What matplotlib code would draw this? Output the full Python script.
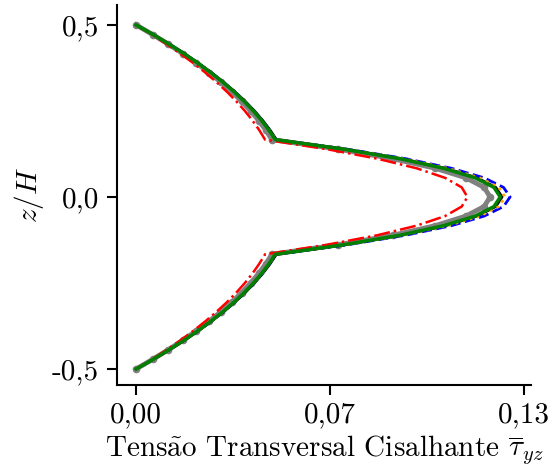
import numpy as np
import matplotlib
matplotlib.use("Agg")
import matplotlib.pyplot as plt
from matplotlib.ticker import FuncFormatter

plt.rcParams["font.family"] = ["cmr10", "DejaVu Serif"]
plt.rcParams["mathtext.fontset"] = "cm"
plt.rcParams["axes.unicode_minus"] = False

# half profile, z/H from 0.5 down to 0 (step 1/36); profile is symmetric
z_half = [0.5, 0.4722, 0.4444, 0.4167, 0.3889, 0.3611, 0.3333, 0.3056, 0.2778,
          0.25, 0.2222, 0.1944, 0.1667, 0.1389, 0.1111, 0.0833, 0.0556, 0.0278, 0.0]

tau_black = [0, 0.00571, 0.01110, 0.01616, 0.02089, 0.02530, 0.02937, 0.03313, 0.03656,
             0.03966, 0.04243, 0.04488, 0.0470, 0.0701, 0.0890, 0.1037, 0.1142, 0.1205, 0.1226]
tau_blue = [0, 0.00569, 0.01105, 0.01609, 0.02080, 0.02519, 0.02925, 0.03299, 0.03640,
            0.03949, 0.04225, 0.04469, 0.0468, 0.0708, 0.0904, 0.1057, 0.1166, 0.1231, 0.1253]
tau_orange = [0, 0.00567, 0.01102, 0.01605, 0.02075, 0.02513, 0.02918, 0.03291, 0.03631,
              0.03939, 0.04215, 0.04458, 0.0467, 0.0702, 0.0894, 0.1044, 0.1151, 0.1215, 0.1236]
tau_green = [0, 0.00566, 0.01100, 0.01602, 0.02071, 0.02508, 0.02912, 0.03285, 0.03624,
             0.03932, 0.04207, 0.04450, 0.0466, 0.0696, 0.0885, 0.1031, 0.1136, 0.1199, 0.1220]
tau_gray = [0, 0.00553, 0.01075, 0.01564, 0.02023, 0.02449, 0.02844, 0.03208, 0.03540,
            0.03840, 0.04109, 0.04346, 0.0455, 0.0678, 0.0861, 0.1003, 0.1105, 0.1166, 0.1186]
tau_red = [0, 0.00525, 0.01020, 0.01485, 0.01920, 0.02325, 0.02700, 0.03045, 0.03360,
           0.03645, 0.03900, 0.04125, 0.0432, 0.0639, 0.0809, 0.0940, 0.1035, 0.1091, 0.1110]

xticks = [0.0, 0.065, 0.13]
yticks = [-0.5, 0.0, 0.5]


def full(vals, neg=False):
    v = np.array(vals, dtype=float)
    if neg:
        return np.concatenate([v, -v[-2::-1]])
    return np.concatenate([v, v[-2::-1]])


z = full(z_half, neg=True)

fig = plt.figure(figsize=(5.49, 4.75), dpi=100)
ax = fig.add_axes([0.2131, 0.1895, 0.7541, 0.8])

ax.plot(full(tau_gray), z, color="gray", lw=3.5, marker="o", ms=4.5)
ax.plot(full(tau_black), z, color="black", lw=2)
ax.plot(full(tau_blue), z, color="blue", lw=2, ls="--")
ax.plot(full(tau_orange), z, color="orange", lw=2, ls=":")
ax.plot(full(tau_red), z, color="red", lw=1.8, ls="-.")
ax.plot(full(tau_green), z, color="green", lw=2.5)

ax.set_xlim(-0.0064, 0.1323)
ax.set_ylim(-0.5465, 0.558)
ax.set_xticks(xticks)
ax.set_yticks(yticks)
ax.xaxis.set_major_formatter(FuncFormatter(lambda v, p: f"{v:.2f}".replace(".", ",")))
ax.yaxis.set_major_formatter(FuncFormatter(lambda v, p: f"{v:.1f}".replace(".", ",")))
ax.tick_params(labelsize=21, length=7, width=1.5)
ax.tick_params(axis="y", pad=6)
ax.tick_params(axis="x", pad=5)
for s in ["top", "right"]:
    ax.spines[s].set_visible(False)
for s in ["left", "bottom"]:
    ax.spines[s].set_linewidth(1.5)

ax.set_xlabel(r"Tens$\tilde{\mathrm{a}}$o Transversal Cisalhante $\overline{\tau}_{yz}$", fontsize=21)
ax.set_ylabel(r"$z/H$", fontsize=21)

fig.savefig("out.png", dpi=100)
